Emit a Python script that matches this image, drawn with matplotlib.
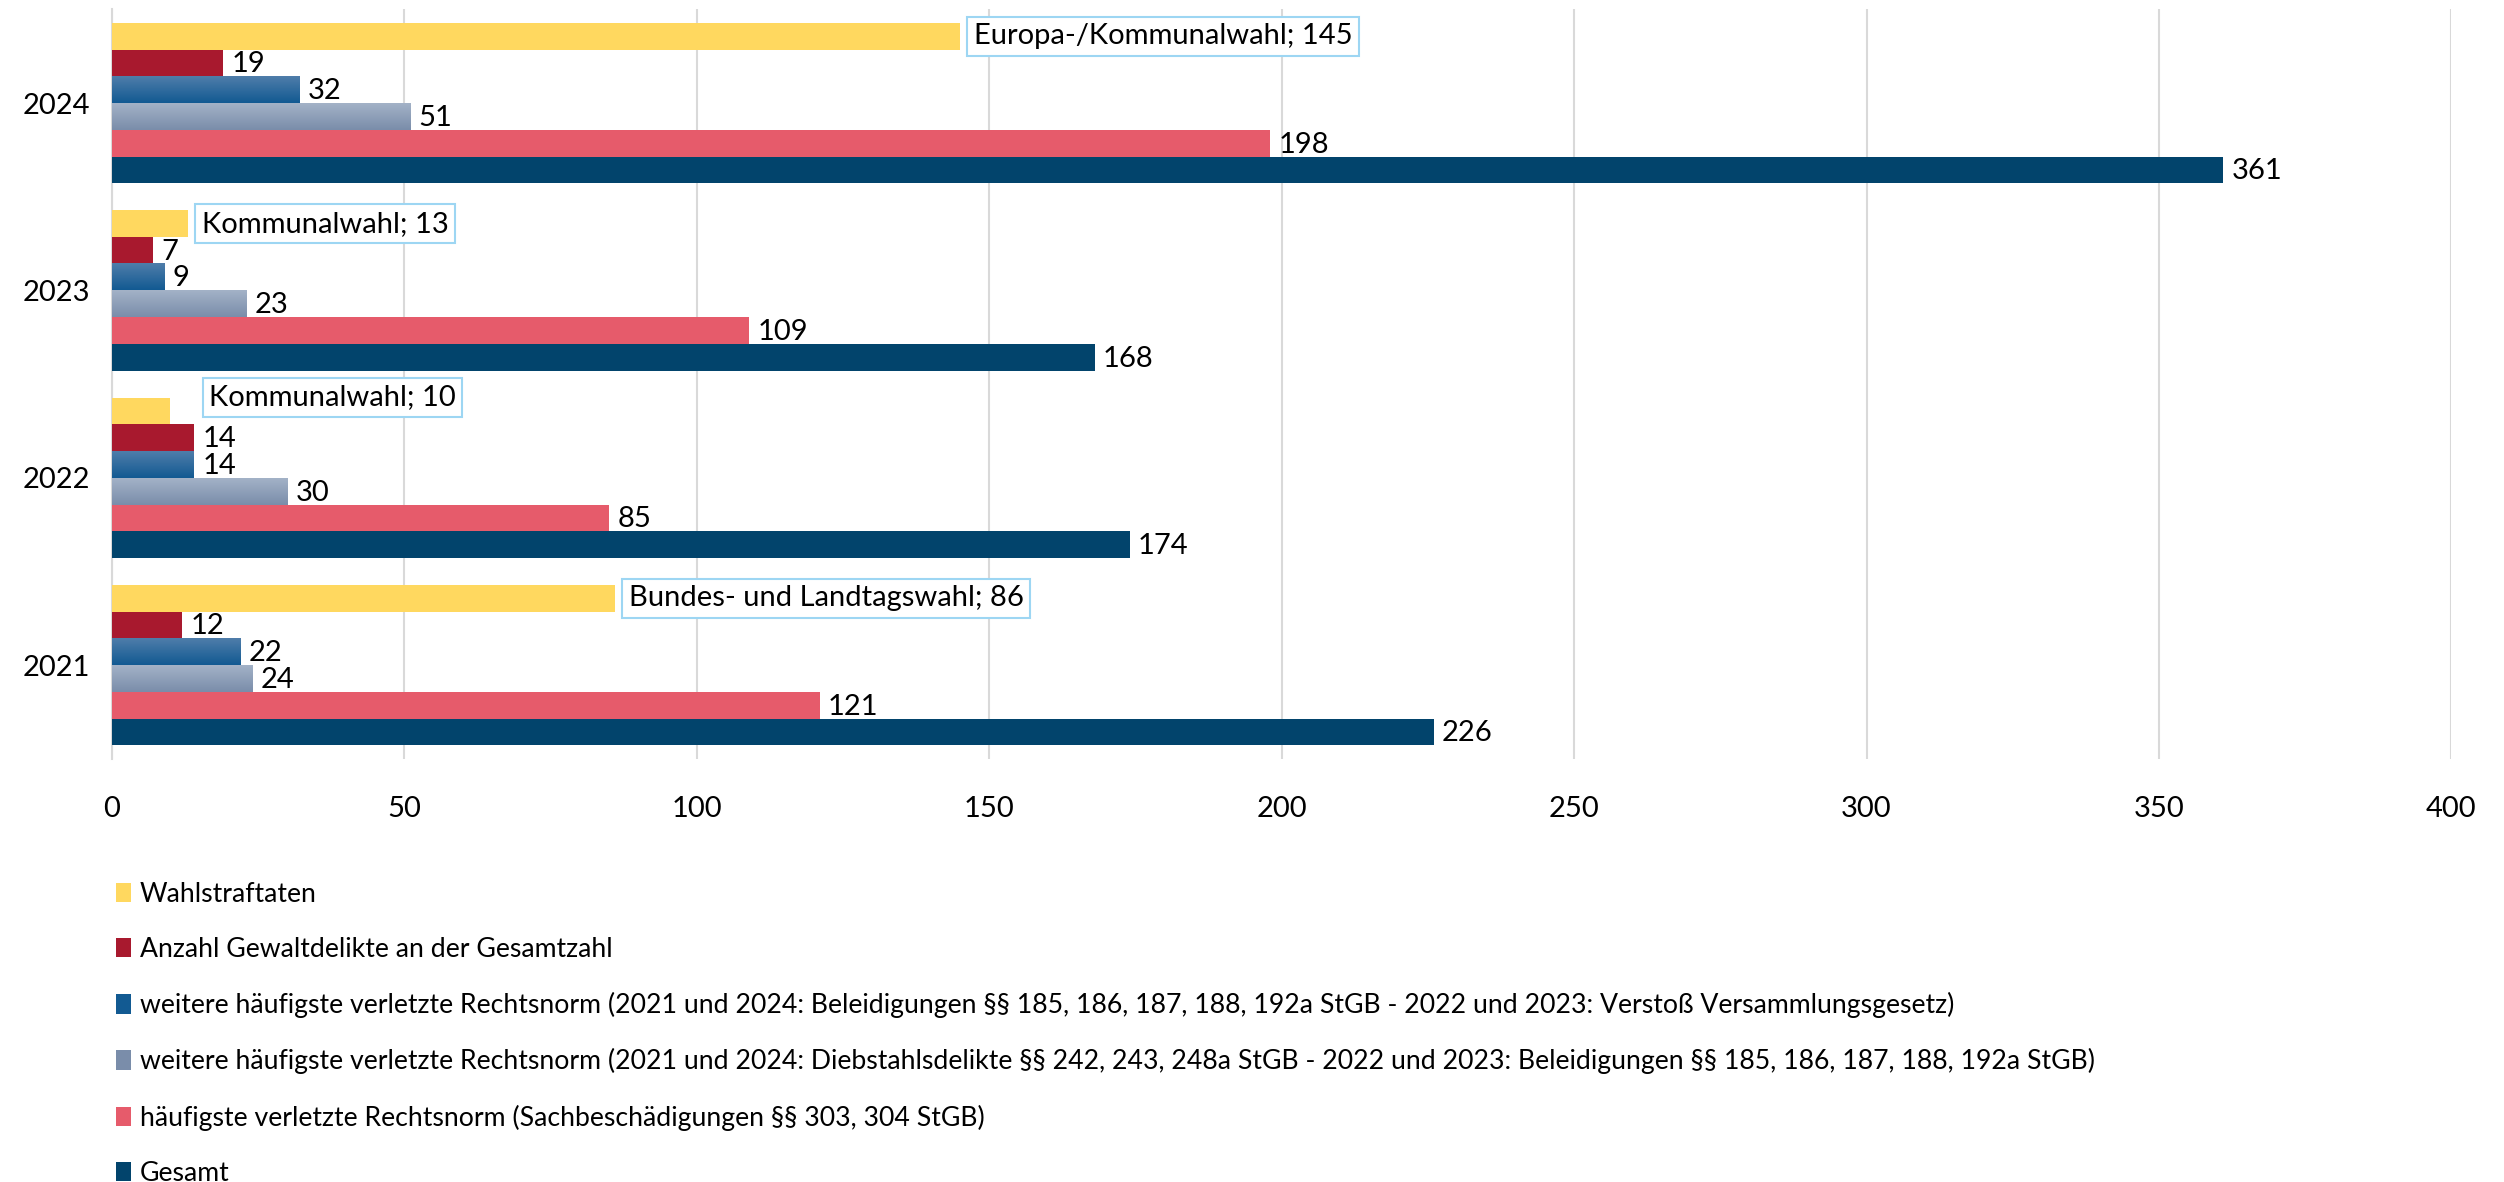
import numpy as np
import matplotlib
matplotlib.use("Agg")
import matplotlib.pyplot as plt
from matplotlib.colors import LinearSegmentedColormap
from matplotlib.patches import Patch

plt.rcParams['font.family'] = ['Lato', 'DejaVu Sans']

years = ["2021", "2022", "2023", "2024"]

wahl = [86, 10, 13, 145]
wahl_labels = ["Bundes- und Landtagswahl", "Kommunalwahl", "Kommunalwahl", "Europa-/Kommunalwahl"]
gewalt = [12, 14, 7, 19]
weitere_1 = [22, 14, 9, 32]
weitere_2 = [24, 30, 23, 51]
haeufigste = [121, 85, 109, 198]
gesamt = [226, 174, 168, 361]

series_names = [
    "Wahlstraftaten",
    "Anzahl Gewaltdelikte an der Gesamtzahl",
    "weitere häufigste verletzte Rechtsnorm (2021 und 2024: Beleidigungen §§ 185, 186, 187, 188, 192a StGB - 2022 und 2023: Verstoß Versammlungsgesetz)",
    "weitere häufigste verletzte Rechtsnorm (2021 und 2024: Diebstahlsdelikte §§ 242, 243, 248a StGB - 2022 und 2023: Beleidigungen §§ 185, 186, 187, 188, 192a StGB)",
    "häufigste verletzte Rechtsnorm (Sachbeschädigungen §§ 303, 304 StGB)",
    "Gesamt",
]
series_values = [wahl, gewalt, weitere_1, weitere_2, haeufigste, gesamt]
colors = ["#FFD85F", "#A8192E", "#1F5E96", "#8A9BB5", "#E65B6B", "#02446C"]
# vertical gradients (top, bottom) for the two "weitere" series
gradients = {2: ("#4F7DAA", "#125A92"), 3: ("#A3B2C7", "#7A8DAA")}

fig = plt.figure(figsize=(25.04, 11.82), dpi=100)
ax = fig.add_axes([0.0447, 0.358, 0.9343, 0.634])

y = np.arange(len(years))
h = 0.1427
n = len(series_values)

for i, (vals, col) in enumerate(zip(series_values, colors)):
    offs = (n / 2 - 0.5 - i) * h
    bars = ax.barh(y + offs, vals, height=h, color=col, zorder=3)
    if i in gradients:
        cmap = LinearSegmentedColormap.from_list("g%d" % i, [gradients[i][1], gradients[i][0]])
        for b in bars:
            x0, y0 = b.get_x(), b.get_y()
            ax.imshow(np.linspace(0, 1, 64).reshape(-1, 1), cmap=cmap, aspect="auto",
                      origin="lower", extent=(x0, x0 + b.get_width(), y0, y0 + b.get_height()),
                      zorder=3.5)
    for j, b in enumerate(bars):
        cy = b.get_y() + b.get_height() / 2
        if i == 0:
            dx, dy = (10, 0)
            if j == 1:
                dx, dy = (28, 10)
            ax.annotate("%s; %d" % (wahl_labels[j], vals[j]), (b.get_width(), cy),
                        xytext=(dx, dy), textcoords="offset points", ha="left", va="center",
                        fontsize=21, zorder=5,
                        bbox=dict(boxstyle="square,pad=0.22", fc="white", ec="#9DD6F3", lw=1.5))
        else:
            ax.annotate(str(vals[j]), (b.get_width(), cy), xytext=(6, -1),
                        textcoords="offset points", ha="left", va="center", fontsize=21, zorder=5)

ax.set_xlim(0, 400)
ax.set_ylim(-0.5, 3.5)
ax.set_xticks(range(0, 401, 50))
ax.set_yticks(y)
ax.set_yticklabels(years)
ax.tick_params(axis="both", length=0, labelsize=21)
ax.tick_params(axis="x", pad=27)
ax.tick_params(axis="y", pad=16)
ax.grid(axis="x", color="#D9D9D9", lw=1.5, zorder=0)
ax.set_axisbelow(True)
for s in ["top", "right", "bottom"]:
    ax.spines[s].set_visible(False)
ax.spines["left"].set_color("#D9D9D9")
ax.spines["left"].set_linewidth(1.5)

handles = [Patch(facecolor=c) for c in [colors[0], colors[1], gradients[2][1], gradients[3][1], colors[4], colors[5]]]
fig.legend(handles, series_names, loc="upper left", bbox_to_anchor=(0.042, 0.263),
           frameon=False, fontsize=19.2, handlelength=0.55, handleheight=0.75,
           handletextpad=0.35, labelspacing=1.13, borderaxespad=0)

fig.savefig("out.png", dpi=100)
